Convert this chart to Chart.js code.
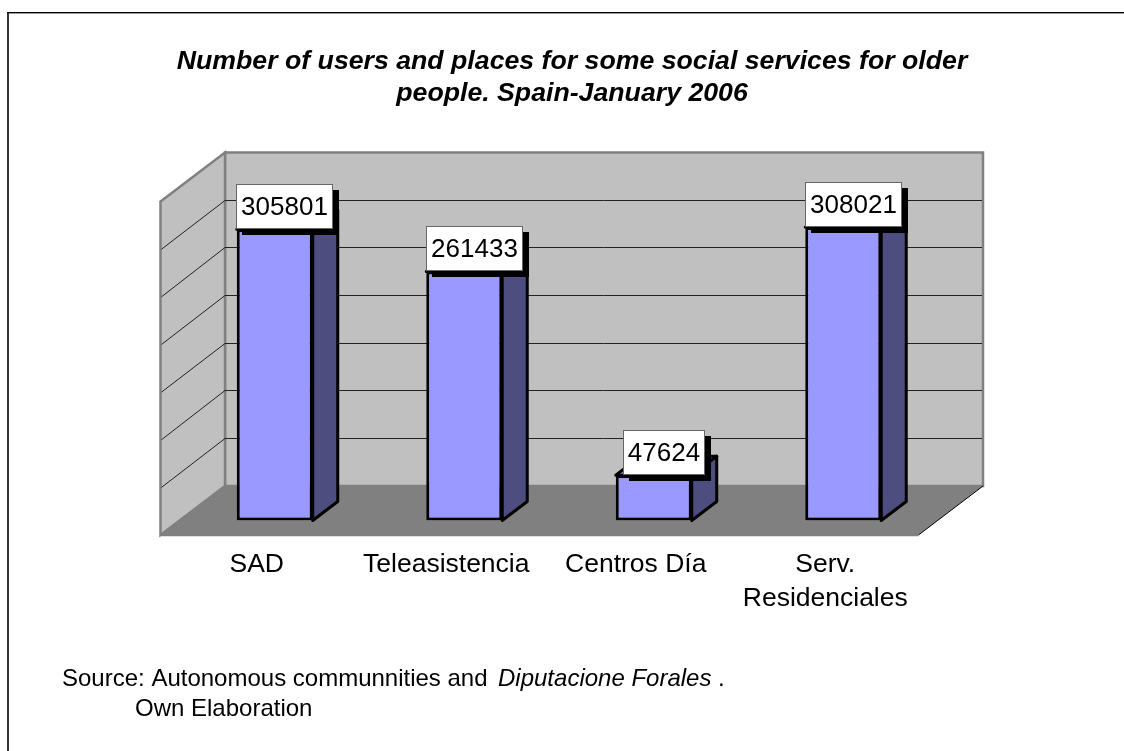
<!DOCTYPE html>
<html><head><meta charset="utf-8">
<style>html,body{margin:0;padding:0;background:#fff}#w{width:1124px;height:751px}canvas{display:block}</style>
<script src="https://cdn.jsdelivr.net/npm/chart.js@4/dist/chart.umd.min.js"></script>
</head><body><div id="w"><canvas id="c" width="1124" height="751"></canvas></div>
<script>
const categories = [["SAD"], ["Teleasistencia"], ["Centros Día"], ["Serv.", "Residenciales"]];
const values = [305801, 261433, 47624, 308021];
const titleLines = ["Number of users and places for some social services for older", "people. Spain-January 2006"];
const axisMax = 350000, axisStep = 50000;
const FONT = '"Liberation Sans", Arial, sans-serif';

const wallBack = {dx: 45, dy: -34.5};     // back wall offset from the bar plane
const wallFront = {dx: -19.5, dy: 14.5};  // front edge of floor offset from the bar plane
const barDepth = {dx: 25, dy: -19};
const tickShift = -18;                    // labels sit on the front plane of the floor

function poly(ctx, pts, fill, stroke, lw) {
  ctx.beginPath();
  pts.forEach((p, i) => i ? ctx.lineTo(p[0], p[1]) : ctx.moveTo(p[0], p[1]));
  ctx.closePath();
  if (fill) { ctx.fillStyle = fill; ctx.fill(); }
  if (stroke) { ctx.strokeStyle = stroke; ctx.lineWidth = lw; ctx.stroke(); }
}

const scene = {
  id: 'scene',
  afterLayout(chart) {
    chart.titleBlock.left = 20;
    chart.titleBlock.right = 1124;
    const x = chart.scales.x, orig = x.getPixelForTick;
    x.getPixelForTick = i => orig.call(x, i) + tickShift;
  },
  beforeDatasetsDraw(chart) {
    const {ctx, chartArea: a, scales: {y}} = chart;
    const y0 = y.getPixelForValue(0), yM = y.getPixelForValue(axisMax);
    const lF = a.left + wallFront.dx, rF = a.right + wallFront.dx;
    const lB = a.left + wallBack.dx, rB = a.right + wallBack.dx;
    const yF = y0 + wallFront.dy, yB = y0 + wallBack.dy;
    const tB = yM + wallBack.dy, tF = yM + wallFront.dy;
    ctx.save();
    // back wall
    poly(ctx, [[lB, tB], [rB, tB], [rB, yB], [lB, yB]], '#c0c0c0', '#808080', 2.5);
    // left wall
    poly(ctx, [[lF, tF], [lB, tB], [lB, yB], [lF, yF]], '#c0c0c0', '#808080', 2.5);
    // floor
    poly(ctx, [[lF, yF], [lB, yB], [rB, yB], [rF, yF]], '#808080', null);
    ctx.strokeStyle = '#000'; ctx.lineWidth = 1;
    ctx.beginPath(); ctx.moveTo(rB, yB); ctx.lineTo(rF, yF); ctx.stroke();
    ctx.strokeStyle = '#808080'; ctx.lineWidth = 2.5;
    ctx.beginPath(); ctx.moveTo(lF, yF); ctx.lineTo(rF, yF); ctx.stroke();
    // gridlines
    ctx.strokeStyle = '#222'; ctx.lineWidth = 1;
    y.ticks.forEach(t => {
      if (t.value === 0 || t.value === axisMax) return;
      const py = y.getPixelForValue(t.value);
      ctx.beginPath();
      ctx.moveTo(lF + 1, py + wallFront.dy);
      ctx.lineTo(lB, Math.floor(py + wallBack.dy) + .5);
      ctx.lineTo(rB - 1, Math.floor(py + wallBack.dy) + .5);
      ctx.stroke();
    });
    // bar side and top faces
    ctx.lineJoin = 'round';
    chart.getDatasetMeta(0).data.forEach(b => {
      const L = b.x - b.width / 2, R = b.x + b.width / 2;
      const d = barDepth;
      poly(ctx, [[R, b.y], [R + d.dx, b.y + d.dy], [R + d.dx, b.base + d.dy], [R, b.base]], '#4d4d80', '#000', 3);
      poly(ctx, [[L, b.y], [L + d.dx, b.y + d.dy], [R + d.dx, b.y + d.dy], [R, b.y]], '#7a7acc', '#000', 3);
    });
    ctx.restore();
  },
  afterDatasetsDraw(chart) {
    const {ctx} = chart;
    ctx.save();
    ctx.font = '26px ' + FONT;
    ctx.textAlign = 'center'; ctx.textBaseline = 'middle';
    chart.getDatasetMeta(0).data.forEach((b, i) => {
      const txt = String(values[i]);
      const w = Math.round(ctx.measureText(txt).width) + 10, h = 45;
      const cx = b.x + 10, l = Math.round(cx - w / 2), t = Math.round(b.y - 45.5);
      ctx.fillStyle = '#000';
      ctx.fillRect(l + 6, t + 6, w, h);
      ctx.fillStyle = '#fff'; ctx.strokeStyle = '#666'; ctx.lineWidth = 1;
      ctx.fillRect(l, t, w, h);
      ctx.strokeRect(l + .5, t + .5, w - 1, h - 1);
      ctx.fillStyle = '#000';
      ctx.fillText(txt, l + w / 2, t + h / 2 + 1);
    });
    // source note
    ctx.textAlign = 'left'; ctx.textBaseline = 'alphabetic';
    ctx.font = '24px ' + FONT;
    ctx.fillText('Source: Autonomous communnities and', 62, 686);
    ctx.fillText('Own Elaboration', 135, 716);
    ctx.font = 'italic 24px ' + FONT;
    ctx.fillText('Diputacione Forales', 498, 686);
    ctx.font = '24px ' + FONT;
    ctx.fillText('.', 718, 686);
    // frame: only top and left edges fall inside the picture
    ctx.fillStyle = '#999';
    ctx.fillRect(9, 13, 1115, 1);
    ctx.fillStyle = '#333';
    ctx.fillRect(7, 12, 2, 739);
    ctx.fillStyle = '#000';
    ctx.fillRect(7, 12, 1117, 1);
    ctx.restore();
  }
};

new Chart(document.getElementById('c'), {
  type: 'bar',
  data: {
    labels: categories,
    datasets: [{
      data: values,
      backgroundColor: '#9999ff',
      borderColor: '#000',
      borderWidth: 3,
      borderSkipped: false,
      barPercentage: 0.401,
      categoryPercentage: 1
    }]
  },
  options: {
    responsive: false,
    animation: false,
    layout: {padding: {left: 180, right: 186, top: 0, bottom: 0}},
    plugins: {
      legend: {display: false},
      tooltip: {enabled: false},
      title: {
        display: true,
        text: titleLines,
        color: '#000',
        font: {family: FONT, size: 26.7, style: 'italic', weight: 'bold', lineHeight: 1.2},
        padding: {top: 45.5, bottom: 77.5}
      }
    },
    scales: {
      x: {
        grid: {display: false},
        border: {display: false},
        afterFit(s) { s.height = 230.5; },
        ticks: {color: '#000', font: {family: FONT, size: 26.5, lineHeight: 1.28}, padding: 19.5, maxRotation: 0, autoSkip: false}
      },
      y: {
        display: false,
        min: 0, max: axisMax,
        ticks: {stepSize: axisStep}
      }
    }
  },
  plugins: [scene]
});
</script></body></html>
